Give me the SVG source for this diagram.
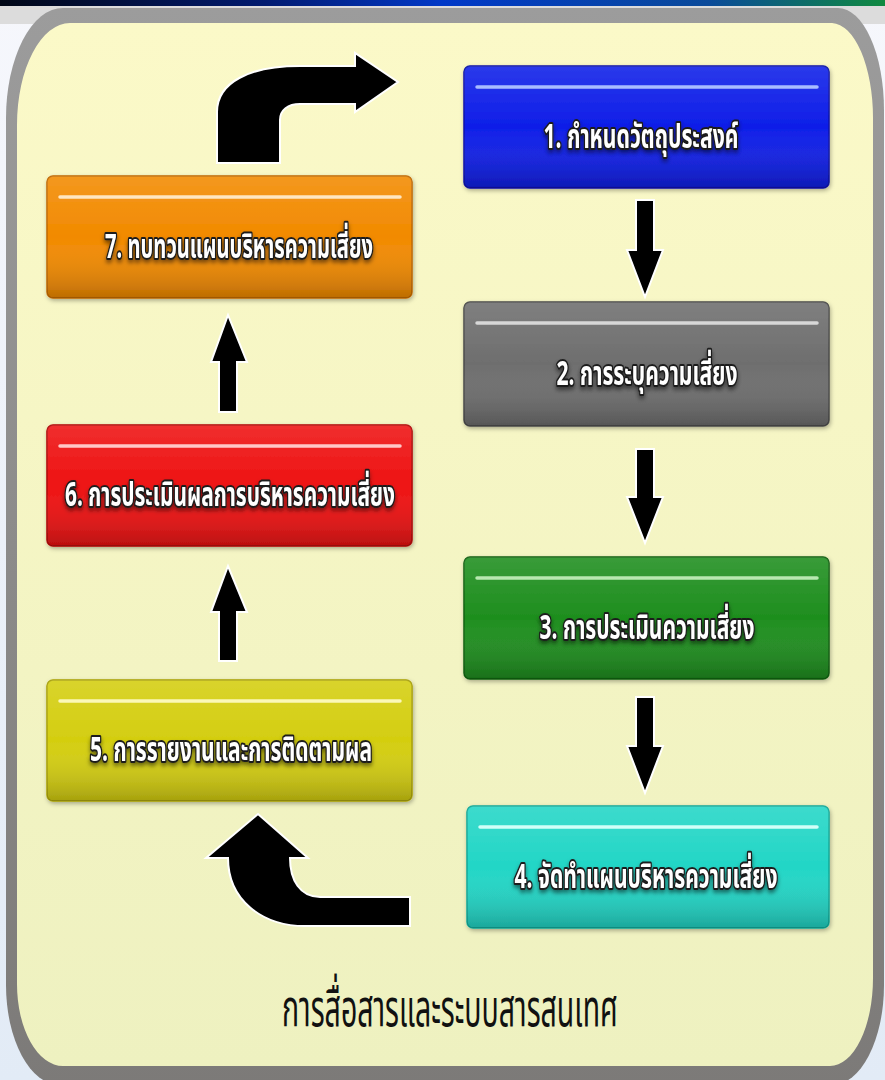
<svg xmlns="http://www.w3.org/2000/svg" width="885" height="1080" viewBox="0 0 885 1080">
<defs>
<linearGradient id="topbar" x1="0" y1="0" x2="1" y2="0">
<stop offset="0" stop-color="#000615"/><stop offset="0.3" stop-color="#001a70"/><stop offset="0.5" stop-color="#0038c8"/><stop offset="0.8" stop-color="#0a4a9a"/><stop offset="1" stop-color="#108a40"/>
</linearGradient>
<linearGradient id="bg" x1="0" y1="0" x2="0" y2="1">
<stop offset="0" stop-color="#f6f7fc"/><stop offset="1" stop-color="#e2ebf6"/>
</linearGradient>
<linearGradient id="cream" x1="0" y1="0" x2="0" y2="1">
<stop offset="0" stop-color="#fbf9c8"/><stop offset="1" stop-color="#eef1c0"/>
</linearGradient>
<linearGradient id="frame" x1="0" y1="0" x2="0" y2="1">
<stop offset="0" stop-color="#9c9c9c"/><stop offset="1" stop-color="#7c7a78"/>
</linearGradient>
<linearGradient id="shade" x1="0" y1="0" x2="0" y2="1">
<stop offset="0" stop-color="#ffffff" stop-opacity="0.12"/><stop offset="0.5" stop-color="#ffffff" stop-opacity="0"/><stop offset="1" stop-color="#000000" stop-opacity="0.22"/>
</linearGradient>
<filter id="tshadow" x="-10%" y="-30%" width="120%" height="170%">
<feDropShadow dx="0" dy="3" stdDeviation="2" flood-color="#000" flood-opacity="0.5"/>
</filter>
<filter id="bshadow" x="-5%" y="-10%" width="110%" height="130%">
<feDropShadow dx="1" dy="2" stdDeviation="2" flood-color="#000" flood-opacity="0.3"/>
</filter>
<style>
.lbl{font-family:"Noto Sans Thai","Loma","Garuda","Tlwg Typist","Noto Sans","DejaVu Sans",sans-serif;font-weight:bold;font-size:34px;fill:#ffffff;stroke:#1e1e1e;stroke-width:4px;paint-order:stroke;stroke-linejoin:round;text-anchor:middle;filter:url(#tshadow)}
.cap{font-family:"Noto Sans Thai","Loma","Garuda","Noto Sans","DejaVu Sans",sans-serif;font-size:52px;fill:#111;text-anchor:middle}
.hl{stroke-width:3.5;stroke-linecap:round}
.arr{fill:#000;stroke:#ffffff;stroke-width:2;stroke-linejoin:miter}
.box{filter:url(#bshadow)}
</style>
</defs>

<rect x="0" y="0" width="885" height="1080" fill="url(#bg)"/>
<rect x="0" y="0" width="885" height="6" fill="url(#topbar)"/>
<rect x="0" y="6" width="885" height="18" fill="#dcdcdc"/>

<g id="panel">
<path d="M 63 8 H 838 A 46 102 0 0 1 884 110 V 985 A 52 100 0 0 1 832 1085 H 60 A 54 100 0 0 1 6 985 V 118 A 57 110 0 0 1 63 8 Z" fill="url(#frame)"/>
<path d="M 70 23 H 832 A 42 95 0 0 1 873 118 V 978 A 43 88 0 0 1 830 1066 H 63 A 46 82 0 0 1 17 984 V 125 A 53 102 0 0 1 70 23 Z" fill="url(#cream)"/>
</g>

<g id="n1" class="box">
<rect x="464" y="66" width="365" height="122" rx="6" fill="#0e1ee8" stroke="#0a12a8" stroke-width="1.5"/>
<rect x="464" y="66" width="365" height="122" rx="6" fill="url(#shade)"/>
<line x1="477" y1="87" x2="817" y2="87" class="hl" stroke="#a8bcff"/>
<text x="641" y="148" class="lbl" textLength="195" lengthAdjust="spacingAndGlyphs">1. กำหนดวัตถุประสงค์</text>
</g>

<g id="n2" class="box">
<rect x="464" y="302" width="365" height="124" rx="6" fill="#6e6e6e" stroke="#4a4a4a" stroke-width="1.5"/>
<rect x="464" y="302" width="365" height="124" rx="6" fill="url(#shade)"/>
<line x1="477" y1="323" x2="817" y2="323" class="hl" stroke="#d8d8d8"/>
<text x="647" y="385" class="lbl" textLength="181" lengthAdjust="spacingAndGlyphs">2. การระบุความเสี่ยง</text>
</g>

<g id="n3" class="box">
<rect x="464" y="557" width="365" height="122" rx="6" fill="#1e8e1e" stroke="#106010" stroke-width="1.5"/>
<rect x="464" y="557" width="365" height="122" rx="6" fill="url(#shade)"/>
<line x1="477" y1="578" x2="817" y2="578" class="hl" stroke="#b8e8b0"/>
<text x="647" y="639" class="lbl" textLength="215" lengthAdjust="spacingAndGlyphs">3. การประเมินความเสี่ยง</text>
</g>

<g id="n4" class="box">
<rect x="467" y="806" width="362" height="122" rx="6" fill="#22d6c6" stroke="#10a898" stroke-width="1.5"/>
<rect x="467" y="806" width="362" height="122" rx="6" fill="url(#shade)"/>
<line x1="480" y1="827" x2="817" y2="827" class="hl" stroke="#d0fff8"/>
<text x="646" y="888" class="lbl" textLength="263" lengthAdjust="spacingAndGlyphs">4. จัดทำแผนบริหารความเสี่ยง</text>
</g>

<g id="n5" class="box">
<rect x="47" y="680" width="365" height="121" rx="6" fill="#d4ce10" stroke="#a8a008" stroke-width="1.5"/>
<rect x="47" y="680" width="365" height="121" rx="6" fill="url(#shade)"/>
<line x1="60" y1="701" x2="400" y2="701" class="hl" stroke="#fbf8b8"/>
<text x="231" y="761" class="lbl" textLength="282" lengthAdjust="spacingAndGlyphs">5. การรายงานและการติดตามผล</text>
</g>

<g id="n6" class="box">
<rect x="47" y="425" width="365" height="121" rx="6" fill="#ee1212" stroke="#b00808" stroke-width="1.5"/>
<rect x="47" y="425" width="365" height="121" rx="6" fill="url(#shade)"/>
<line x1="60" y1="446" x2="400" y2="446" class="hl" stroke="#ffc8c8"/>
<text x="230" y="506" class="lbl" textLength="330" lengthAdjust="spacingAndGlyphs">6. การประเมินผลการบริหารความเสี่ยง</text>
</g>

<g id="n7" class="box">
<rect x="47" y="176" width="365" height="122" rx="6" fill="#f28a00" stroke="#c06800" stroke-width="1.5"/>
<rect x="47" y="176" width="365" height="122" rx="6" fill="url(#shade)"/>
<line x1="60" y1="197" x2="400" y2="197" class="hl" stroke="#ffe6c0"/>
<text x="239" y="258" class="lbl" textLength="268" lengthAdjust="spacingAndGlyphs">7. ทบทวนแผนบริหารความเสี่ยง</text>
</g>

<g id="connectors">
<path class="arr" d="M 636 200 H 654 V 250 H 663 L 645 297 L 627 250 H 636 Z"/>
<path class="arr" d="M 636 449 H 654 V 497 H 663 L 645 543 L 627 497 H 636 Z"/>
<path class="arr" d="M 636 697 H 654 V 746 H 663 L 645 793 L 627 746 H 636 Z"/>
<path class="arr" d="M 219 412 H 237 V 362 H 247 L 228 315 L 211 362 H 219 Z"/>
<path class="arr" d="M 219 661 H 237 V 612 H 247 L 228 566 L 211 612 H 219 Z"/>
<path class="arr" d="M 217 163 V 112 C 217 82 250 66 300 66 H 355 V 53 L 398 82 L 355 112 V 104 H 300 C 288 104 280 110 280 120 V 163 Z"/>
<path class="arr" d="M 410 897 V 926 H 305 C 262 926 228 900 228 858 H 206 L 258 814 L 308 858 H 290 C 290 880 300 897 320 897 Z"/>
</g>

<text x="450" y="1026" class="cap" textLength="336" lengthAdjust="spacingAndGlyphs">การสื่อสารและระบบสารสนเทศ</text>
</svg>
